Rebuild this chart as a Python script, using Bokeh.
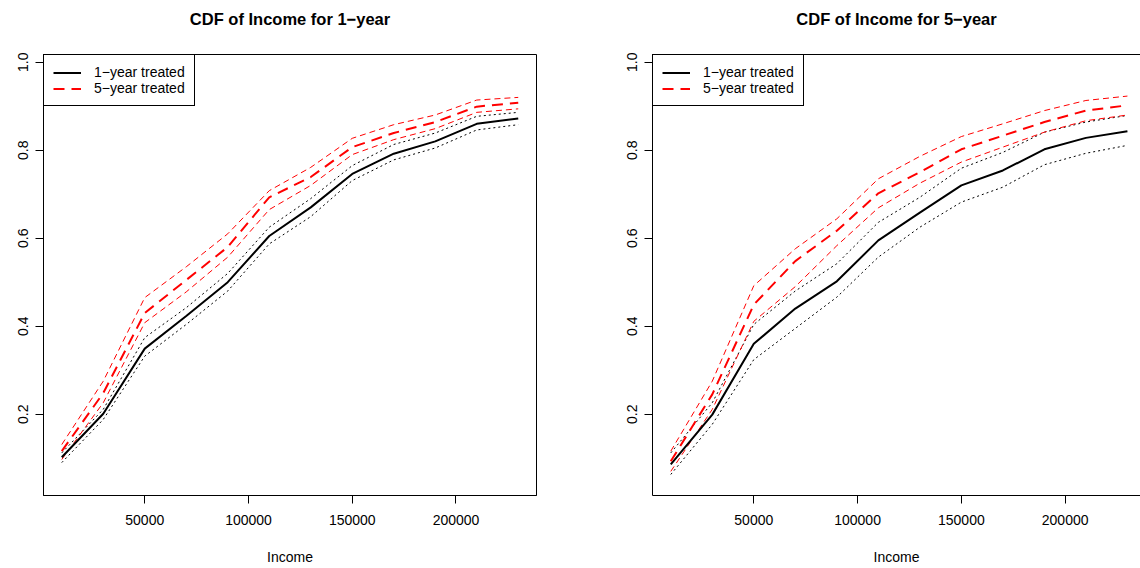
from bokeh.plotting import figure
from bokeh.layouts import row
from bokeh.models import Range1d, FixedTicker, NumeralTickFormatter, LinearAxis
from bokeh.embed import file_html
from bokeh.resources import INLINE

# ---------------- data ----------------
income = [10000, 30000, 50000, 70000, 90000, 110000,
          130000, 150000, 170000, 190000, 210000, 230000]

# Panel 1: CDF of Income for 1-year
p1_one = [0.102, 0.201, 0.349, 0.423, 0.500, 0.605, 0.670, 0.746, 0.792, 0.820, 0.860, 0.872]
p1_one_hi = [0.112, 0.211, 0.374, 0.442, 0.520, 0.625, 0.690, 0.765, 0.813, 0.839, 0.877, 0.886]
p1_one_lo = [0.090, 0.188, 0.332, 0.404, 0.480, 0.587, 0.649, 0.731, 0.778, 0.805, 0.846, 0.858]
p1_five = [0.116, 0.248, 0.430, 0.505, 0.580, 0.693, 0.739, 0.807, 0.839, 0.864, 0.899, 0.908]
p1_five_hi = [0.131, 0.275, 0.465, 0.535, 0.610, 0.708, 0.761, 0.827, 0.858, 0.880, 0.914, 0.920]
p1_five_lo = [0.097, 0.226, 0.408, 0.478, 0.557, 0.665, 0.720, 0.790, 0.824, 0.849, 0.886, 0.894]

# Panel 2: CDF of Income for 5-year
p2_one = [0.086, 0.199, 0.360, 0.440, 0.502, 0.595, 0.658, 0.720, 0.754, 0.802, 0.828, 0.843]
p2_one_hi = [0.112, 0.226, 0.404, 0.480, 0.542, 0.636, 0.693, 0.759, 0.795, 0.841, 0.864, 0.879]
p2_one_lo = [0.063, 0.177, 0.324, 0.395, 0.466, 0.557, 0.625, 0.682, 0.716, 0.767, 0.793, 0.811]
p2_five = [0.093, 0.245, 0.449, 0.548, 0.617, 0.702, 0.750, 0.802, 0.833, 0.864, 0.890, 0.902]
p2_five_hi = [0.116, 0.275, 0.492, 0.576, 0.644, 0.735, 0.786, 0.831, 0.860, 0.890, 0.913, 0.923]
p2_five_lo = [0.070, 0.211, 0.411, 0.490, 0.583, 0.669, 0.725, 0.773, 0.807, 0.841, 0.867, 0.880]

titles = ["CDF of Income for 1\u2212year", "CDF of Income for 5\u2212year"]
legend_labels = ["1\u2212year treated", "5\u2212year treated"]
x_label = "Income"
x_ticks = [50000, 100000, 150000, 200000]
y_ticks = [0.2, 0.4, 0.6, 0.8, 1.0]

FONT = "Liberation Sans"


def style_axis(ax):
    ax.axis_line_color = "black"
    ax.axis_line_width = 1
    ax.major_tick_line_color = "black"
    ax.major_tick_in = 0
    ax.major_tick_out = 8
    ax.minor_tick_line_color = None
    ax.major_label_text_font = FONT
    ax.major_label_text_font_size = "14px"
    ax.major_label_text_color = "black"


def make_panel(title, one, one_hi, one_lo, five, five_hi, five_lo,
               width, border_left, border_right, x_end, full_box):
    p = figure(width=width, height=568, output_backend="svg", toolbar_location=None,
               x_range=Range1d(1200, x_end), y_range=Range1d(0.0152, 1.0175),
               min_border_left=border_left, min_border_right=border_right,
               min_border_top=54, min_border_bottom=73,
               x_axis_location=None, y_axis_location=None)
    p.background_fill_color = "white"
    p.border_fill_color = "white"
    p.xgrid.grid_line_color = None
    p.ygrid.grid_line_color = None

    xax = LinearAxis(ticker=FixedTicker(ticks=x_ticks),
                     formatter=NumeralTickFormatter(format="0"))
    style_axis(xax)
    xax.major_label_standoff = 11
    xax.axis_label = x_label
    xax.axis_label_text_font = FONT
    xax.axis_label_text_font_size = "14px"
    xax.axis_label_text_font_style = "normal"
    xax.axis_label_text_color = "black"
    xax.axis_label_standoff = 21
    p.add_layout(xax, "below")

    yax = LinearAxis(ticker=FixedTicker(ticks=y_ticks),
                     formatter=NumeralTickFormatter(format="0.0"))
    style_axis(yax)
    yax.major_label_orientation = "vertical"
    yax.major_label_standoff = 7
    p.add_layout(yax, "left")

    if full_box:
        p.outline_line_color = "black"
        p.outline_line_width = 1
        p.outline_line_alpha = 1
    else:
        # the right-hand panel is cut by the page edge: draw only top, left, bottom edges
        p.outline_line_color = None
        top = LinearAxis(ticker=FixedTicker(ticks=[]))
        top.axis_line_color = "black"
        top.major_tick_line_color = None
        top.minor_tick_line_color = None
        top.major_label_text_font_size = "0px"
        top.major_label_standoff = 0
        top.major_tick_out = 0
        top.major_tick_in = 0
        p.add_layout(top, "above")

    p.title.text = title
    p.title.align = "center"
    p.title.vertical_align = "top"
    p.title.standoff = 0
    p.title.padding = dict(left=0, right=0, top=0, bottom=25)
    p.title.text_font = FONT
    p.title.text_font_size = "16.5px"
    p.title.text_font_style = "bold"
    p.title.text_color = "black"

    # confidence bands
    p.line(income, one_hi, line_color="black", line_width=1, line_dash="2 3")
    p.line(income, one_lo, line_color="black", line_width=1, line_dash="2 3")
    p.line(income, five_hi, line_color="red", line_width=1, line_dash="6 4")
    p.line(income, five_lo, line_color="red", line_width=1, line_dash="6 4")
    # main curves
    p.line(income, one, line_color="black", line_width=2, legend_label=legend_labels[0])
    p.line(income, five, line_color="red", line_width=2, line_dash="11 7",
           legend_label=legend_labels[1])

    lg = p.legend[0]
    lg.location = "top_left"
    lg.margin = 0
    lg.padding = 9
    lg.spacing = 0
    lg.label_height = 15
    lg.glyph_height = 15
    lg.glyph_width = 28
    lg.label_standoff = 13
    lg.label_text_font = FONT
    lg.label_text_font_size = "14px"
    lg.label_text_color = "black"
    lg.border_line_color = "black"
    lg.border_line_width = 1
    lg.border_line_alpha = 1
    lg.background_fill_color = "white"
    lg.background_fill_alpha = 1
    return p


p1 = make_panel(titles[0], p1_one, p1_one_hi, p1_one_lo, p1_five, p1_five_hi, p1_five_lo,
                width=570, border_left=43, border_right=34, x_end=238800, full_box=True)
p2 = make_panel(titles[1], p2_one, p2_one_hi, p2_one_lo, p2_five, p2_five_hi, p2_five_lo,
                width=570, border_left=82, border_right=0, x_end=236300, full_box=False)

layout = row(p1, p2, spacing=0)
open("out.html", "w").write(file_html(layout, INLINE))
